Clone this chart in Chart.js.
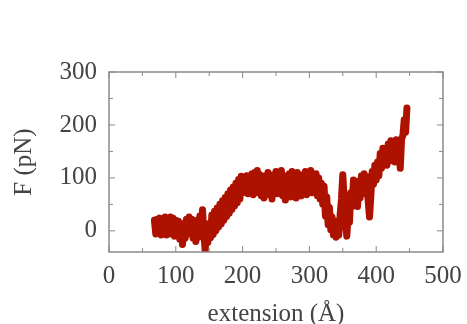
<!DOCTYPE html>
<html><head><meta charset="utf-8">
<script src="https://cdn.jsdelivr.net/npm/chart.js@4/dist/chart.umd.min.js"></script>
<style>html,body{margin:0;padding:0;background:#fff}#wrap{width:467px;height:324px}</style>
</head><body><div id="wrap"><canvas id="c" width="467" height="324"></canvas></div>
<script>
const extension = [68,70,72,74,76,78,80,82,84,86,88,90,92,94,96,98,100,102,104,106,108,110,112,114,116,118,120,122,124,126,128,130,132,134,136,138,140,142,144,146,148,150,
152,154,156,158,160,162,164,166,168,170,172,174,176,178,180,182,184,186,188,190,192,194,196,198,
200,202,204,206,208,210,212,214,216,218,220,222,224,226,228,230,232,234,236,238,240,242,244,246,248,250,252,254,256,258,260,262,264,266,268,270,272,274,276,278,280,282,284,286,288,290,292,294,296,298,300,302,304,306,308,310,312,314,316,318,
320,322,324,326,328,330,332,334,336,338,340,342,344,346,348,350,352,354,356,358,360,362,364,366,368,370,372,374,376,378,380,382,384,386,388,390,392,394,396,398,400,402,404,406,408,410,412,414,416,418,420,422,424,426,428,430,432,434,436,438,440,442,444,446];
const force = [20,-6,22,-4,24,-8,20,-2,26,-8,22,-6,26,-4,24,-10,20,-8,18,-16,14,-26,12,-14,22,-6,26,-4,22,-14,16,-20,20,-12,28,-2,40,-4,-38,12,-22,14,
-13,30,-7,37,0,43,7,50,13,57,20,63,27,70,33,77,40,83,47,90,53,97,60,103,
72,100,76,104,70,102,74,108,68,110,76,114,72,106,66,102,62,104,72,110,68,100,60,106,74,112,70,108,78,114,66,102,58,104,70,108,64,112,76,104,62,110,70,100,66,106,74,112,68,104,76,114,72,102,78,108,66,100,60,90,
50,84,28,64,12,44,2,26,-8,18,-12,12,-8,30,60,106,60,20,-10,30,16,72,46,96,56,90,46,94,62,104,70,108,76,102,56,26,66,112,88,124,96,130,104,146,118,156,126,154,124,164,132,170,136,168,130,172,140,166,118,174,180,210,186,232];
const xTicks = [0,100,200,300,400,500];
const yTicks = [0,100,200,300];
const xMinor = [50,150,250,350,450];
const yMinor = [-50,50,150,250];

const FONT = 'Liberation Serif';
const points = extension.map((x,i)=>({x:x,y:force[i]}));

const frame = {
  id:'frame',
  afterDatasetsDraw(chart){
    const ctx = chart.ctx, a = chart.chartArea;
    const xs = chart.scales.x, ys = chart.scales.y;
    ctx.save();
    ctx.strokeStyle = '#8a8a8a';
    ctx.lineWidth = 1.5;
    ctx.strokeRect(a.left, a.top, a.right-a.left, a.bottom-a.top);
    ctx.lineWidth = 1;
    const tx = (v,len)=>{const p=xs.getPixelForValue(v); if(p<a.left-0.5||p>a.right+0.5)return;
      ctx.beginPath(); ctx.moveTo(p,a.bottom); ctx.lineTo(p,a.bottom-len); ctx.moveTo(p,a.top); ctx.lineTo(p,a.top+len); ctx.stroke();};
    const ty = (v,len)=>{const p=ys.getPixelForValue(v); if(p<a.top-0.5||p>a.bottom+0.5)return;
      ctx.beginPath(); ctx.moveTo(a.left,p); ctx.lineTo(a.left+len,p); ctx.moveTo(a.right,p); ctx.lineTo(a.right-len,p); ctx.stroke();};
    xTicks.forEach(v=>tx(v,6)); xMinor.forEach(v=>tx(v,4));
    yTicks.forEach(v=>ty(v,6)); yMinor.forEach(v=>ty(v,4));
    ctx.restore();
  }
};

new Chart(document.getElementById('c'), {
  type:'line',
  data:{datasets:[{data:points,borderColor:'#ad1100',borderWidth:7,pointRadius:0,tension:0,fill:false,borderJoinStyle:'round',borderCapStyle:'round'}]},
  options:{
    responsive:false, animation:false,
    layout:{padding:{left:0,right:24,top:72,bottom:0}},
    plugins:{legend:{display:false},tooltip:{enabled:false}},
    scales:{
      x:{type:'linear',min:0,max:500,
        afterBuildTicks:s=>{s.ticks=xTicks.map(v=>({value:v}));},
        afterFit:s=>{s.height=72;},
        grid:{display:false},border:{display:false},
        ticks:{font:{family:FONT,size:25},color:'#444',padding:1,maxRotation:0},
        title:{display:true,text:'extension (Å)',font:{family:FONT,size:25},color:'#444',padding:{top:0,bottom:-5}}
      },
      y:{type:'linear',min:-40,max:300,
        afterBuildTicks:s=>{s.ticks=yTicks.map(v=>({value:v}));},
        afterFit:s=>{s.width=109;},
        grid:{display:false},border:{display:false},
        ticks:{font:{family:FONT,size:25},color:'#444',padding:4},
        title:{display:true,text:'F (pN)',font:{family:FONT,size:25},color:'#444',padding:{top:9,bottom:0}}
      }
    }
  },
  plugins:[frame]
});
</script></body></html>
